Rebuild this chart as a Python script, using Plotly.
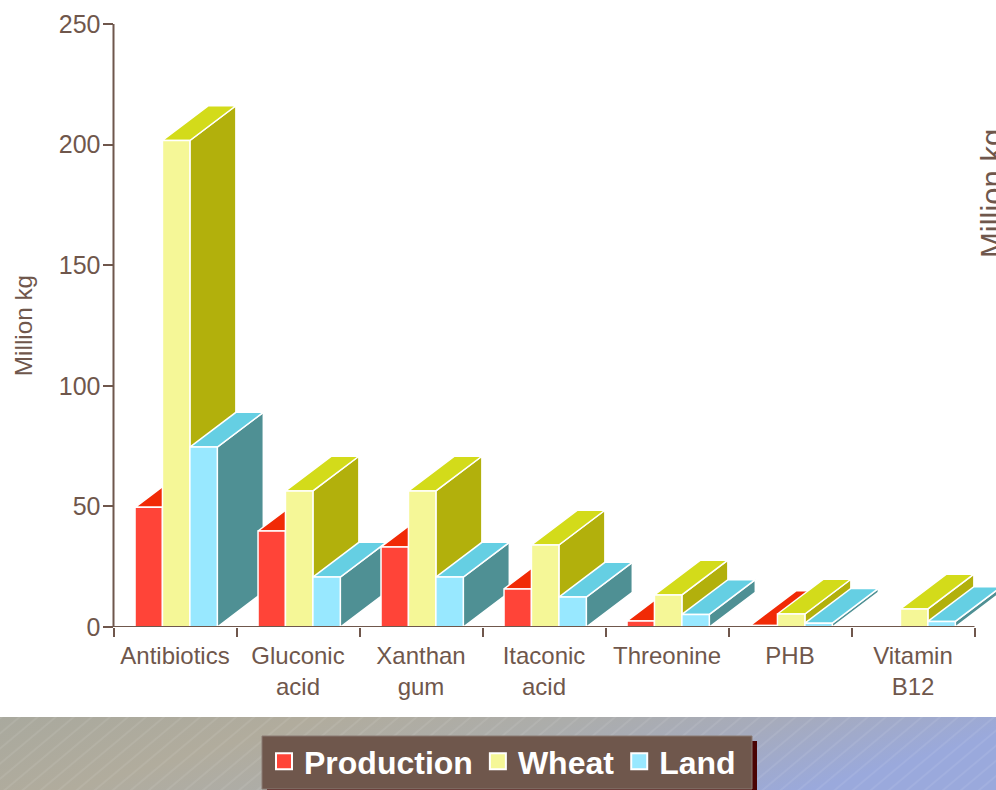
import base64
import plotly.graph_objects as go

categories = ["Antibiotics", "Gluconic<br>acid", "Xanthan<br>gum", "Itaconic<br>acid",
              "Threonine", "PHB", "Vitamin<br>B12"]
series_names = ["Production", "Wheat", "Land"]
production = [49.6, 39.8, 33.2, 15.8, 2.5, 0.6, 0]
wheat = [201.7, 56.4, 56.4, 34.0, 13.3, 5.4, 7.5]
land = [74.6, 20.7, 20.7, 12.4, 5.2, 1.6, 2.3]
y_ticks = [0, 50, 100, 150, 200, 250]

front_colors = ["#ff4438", "#f5f797", "#98e8ff"]
top_colors = ["#f12a06", "#d3db1a", "#65cfe3"]
side_colors = ["#d01f00", "#b2b00c", "#4f9094"]
bar_offsets = [0.175, 0.398, 0.621]
BAR_W = 0.223
DEPTH_X = 0.374
DEPTH_Y = 14.4

W, H = 996, 790
L, R, T, B = 113.5, 974.5, 24, 627
X_MAX = 7 * (W - L) / (R - L)
TEXT = "#6f574c"
FONT = "Liberation Sans"


def px(x):
    return x / W


def py(y):
    return 1 - y / H


fig = go.Figure()
all_series = [production, wheat, land]
z = 0
for c in range(len(categories)):
    for s, values in enumerate(all_series):
        v = values[c]
        if v <= 0:
            continue
        x0 = c + bar_offsets[s]
        x1 = x0 + BAR_W
        fig.add_trace(go.Scatter(
            x=[x1, x1 + DEPTH_X, x1 + DEPTH_X, x1, x1], y=[0, DEPTH_Y, v + DEPTH_Y, v, 0],
            mode="lines", fill="toself", fillcolor=side_colors[s],
            line=dict(color="white", width=1.5), zorder=z,
            showlegend=False, hoverinfo="skip"))
        fig.add_trace(go.Scatter(
            x=[x0, x1, x1 + DEPTH_X, x0 + DEPTH_X, x0], y=[v, v, v + DEPTH_Y, v + DEPTH_Y, v],
            mode="lines", fill="toself", fillcolor=top_colors[s],
            line=dict(color="white", width=1.5), zorder=z,
            showlegend=False, hoverinfo="skip"))
        fig.add_trace(go.Bar(
            x=[x0], y=[v], width=[BAR_W], offset=0,
            marker=dict(color=front_colors[s], line=dict(color="white", width=1.5)),
            zorder=z + 1, showlegend=False, name=series_names[s]))
        z += 2

for s, name in enumerate(series_names):
    fig.add_trace(go.Scatter(
        x=[None], y=[None], mode="markers", name=name,
        marker=dict(symbol="square", size=16, color=front_colors[s], line=dict(color="white", width=2))))

svg = '''<svg xmlns="http://www.w3.org/2000/svg" width="996" height="73">
<defs><linearGradient id="g" x1="0" y1="0" x2="1" y2="0.25">
<stop offset="0" stop-color="#a9a99e"/><stop offset="0.3" stop-color="#b1ac9d"/>
<stop offset="0.55" stop-color="#acadab"/><stop offset="0.75" stop-color="#a6abbc"/>
<stop offset="1" stop-color="#9aa9dc"/></linearGradient>
<pattern id="p" width="11.6" height="73" patternUnits="userSpaceOnUse" patternTransform="rotate(50)">
<line x1="1" y1="0" x2="1" y2="73" stroke="#ffffff" stroke-opacity="0.25" stroke-width="0.6"/></pattern></defs>
<rect width="996" height="73" fill="url(#g)"/><rect width="996" height="73" fill="url(#p)"/></svg>'''
uri = "data:image/svg+xml;base64," + base64.b64encode(svg.encode()).decode()

fig.update_layout(
    width=W, height=H, margin=dict(l=0, r=0, t=0, b=0, pad=0),
    paper_bgcolor="white", plot_bgcolor="rgba(0,0,0,0)",
    barmode="overlay", font=dict(family=FONT, color=TEXT),
    xaxis=dict(domain=[L / W, 1], range=[0, X_MAX], automargin=False, tickmode="array",
               tickvals=[i + 0.5 for i in range(7)],
               ticktext=categories, ticks="outside", ticklen=7, tickcolor="rgba(0,0,0,0)",
               tickfont=dict(size=24, color=TEXT), tickangle=0, showgrid=False, zeroline=False,
               minor=dict(tickmode="array", tickvals=list(range(8)), ticks="outside", ticklen=9,
                          tickwidth=2, tickcolor=TEXT, showgrid=False)),
    yaxis=dict(domain=[1 - B / H, 1 - T / H], range=[0, 250], automargin=False, tickmode="array", tickvals=y_ticks,
               ticks="outside", ticklen=10, tickwidth=2, ticklabelstandoff=-3,
               tickcolor=TEXT, tickfont=dict(size=25, color=TEXT), showgrid=False, zeroline=False,
               title=dict(text="Million kg", font=dict(size=24.3, color=TEXT), standoff=19)),
    legend=dict(orientation="h", x=px(264), y=py(734), xanchor="left", yanchor="top",
                bgcolor="rgba(0,0,0,0)", borderwidth=0, itemwidth=30, itemclick=False, itemdoubleclick=False,
                font=dict(family=FONT, size=32, color="white", weight="bold")),
    images=[dict(source=uri, xref="paper", yref="paper", x=0, y=py(717), sizex=1, sizey=73 / H,
                 xanchor="left", yanchor="top", sizing="stretch", layer="below")],
    shapes=[
        dict(type="rect", xref="paper", yref="paper", x0=px(267), x1=px(757), y0=py(741), y1=py(795),
             fillcolor="#4a0404", line=dict(width=0), layer="below"),
        dict(type="rect", xref="paper", yref="paper", x0=px(262), x1=px(752), y0=py(736), y1=py(789),
             fillcolor="#6f574c", line=dict(color="#8a7b72", width=1), layer="below"),
        dict(type="line", xref="x", yref="y", x0=0, x1=7, y0=0, y1=0,
             line=dict(color=TEXT, width=2), layer="above"),
        dict(type="line", xref="x domain", yref="y domain", x0=0, x1=0, y0=0, y1=1,
             line=dict(color=TEXT, width=2), layer="above"),
    ],
    annotations=[dict(text="Million kg", xref="paper", yref="paper", x=px(993), y=py(194), xanchor="center",
                      yanchor="middle", textangle=-90, showarrow=False, font=dict(size=31, color=TEXT))],
)

fig.write_html("out.html", config={"displayModeBar": False},
               post_script="document.body.style.margin='0';document.body.style.overflow='hidden';")
